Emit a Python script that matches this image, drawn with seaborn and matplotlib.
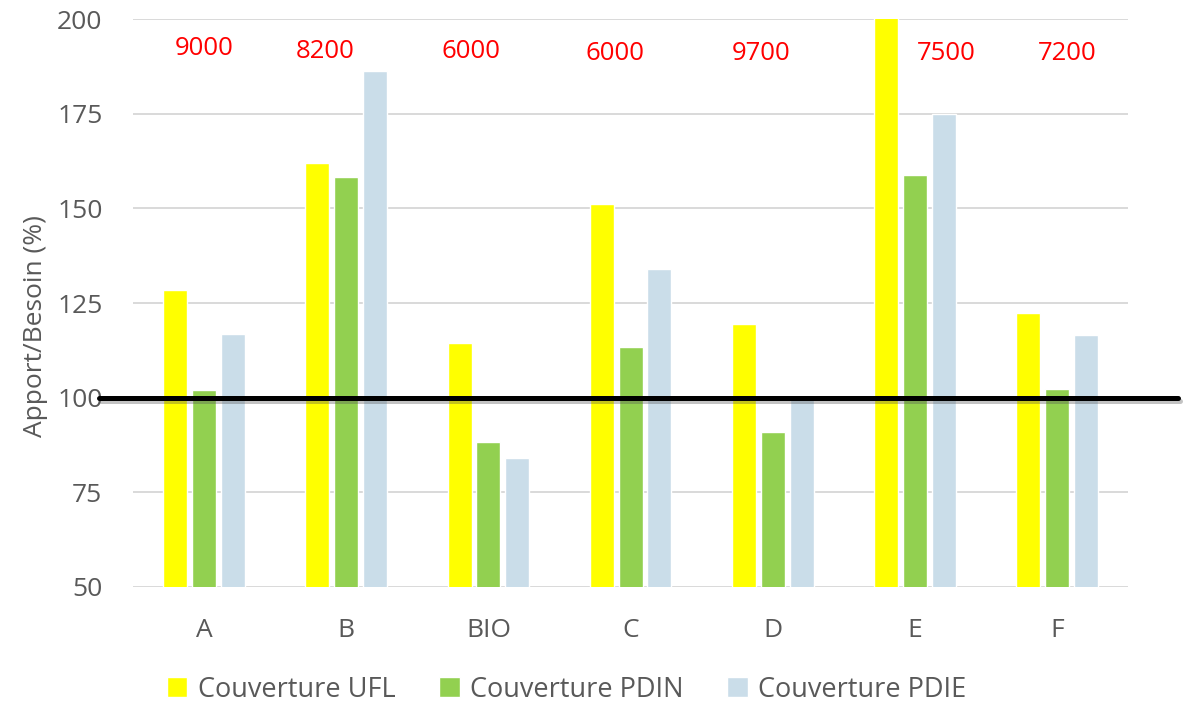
import matplotlib.pyplot as plt
import matplotlib.patheffects as pe
import numpy as np
import pandas as pd
import seaborn as sns

# data
categories = ['A', 'B', 'BIO', 'C', 'D', 'E', 'F']
ufl = [128.4, 162.0, 114.4, 151.1, 119.5, 201.0, 122.3]
pdin = [102.1, 158.3, 88.3, 113.4, 91.0, 158.8, 102.2]
pdie = [116.7, 186.3, 84.1, 133.9, 99.8, 175.0, 116.5]
lait = ['9000', '8200', '6000', '6000', '9700', '7500', '7200']
seuil = 100

series = ['Couverture UFL', 'Couverture PDIN', 'Couverture PDIE']
colors = ['#FFFF00', '#92D050', '#CADDE9']

# where the hand placed red labels sit (offset in category units, y in data)
lab_dx = [0.0, -0.15, -0.12, -0.11, -0.08, 0.22, 0.07]
lab_y = [192.1, 191.5, 191.5, 191.0, 191.0, 190.8, 190.8]

df = pd.DataFrame({'cat': categories * 3,
                   'serie': np.repeat(series, len(categories)),
                   'val': ufl + pdin + pdie})

sns.set_style('white')
plt.rcParams['font.family'] = ['Open Sans', 'DejaVu Sans']

fig = plt.figure(figsize=(11.9, 7.04), dpi=100)
ax = fig.add_axes([0.1118, 0.1662, 0.8362, 0.8068])

sns.barplot(data=df, x='cat', y='val', hue='serie', palette=colors,
            width=0.61, gap=0.17, saturation=1, ax=ax)

ax.set_ylim(50, 200)
ax.set_yticks(range(50, 201, 25))
ax.set_xlim(-0.5, len(categories) - 0.5)
ax.yaxis.grid(True, color='#D9D9D9', lw=1.4)
ax.set_axisbelow(True)
for s in ax.spines.values():
    s.set_visible(False)
ax.tick_params(axis='both', length=0, labelsize=19, colors='#595959')
ax.tick_params(axis='y', pad=22)
ax.tick_params(axis='x', pad=22)
ax.set_xlabel('')
ax.set_ylabel('Apport/Besoin (%)', fontsize=19, color='#595959')
ax.yaxis.set_label_coords(-0.085, 0.46)

# ligne 100 %
ax.axhline(seuil, xmin=-0.034, xmax=1.05, color='black', lw=3.6, clip_on=False,
           path_effects=[pe.SimpleLineShadow(offset=(1.5, -2.5), alpha=0.35, shadow_color='#555555'),
                         pe.Normal()], zorder=5)

for i, t in enumerate(lait):
    ax.text(i + lab_dx[i], lab_y[i], t, color='#FF0000', fontsize=18.5,
            ha='center', va='center')

leg = ax.legend(loc='center', bbox_to_anchor=(0.436, -0.181), ncol=3,
                frameon=False, fontsize=19.5, handlelength=0.75, handleheight=0.75,
                columnspacing=1.6, handletextpad=0.4)
for t in leg.get_texts():
    t.set_color('#595959')

fig.savefig('out.png', dpi=100)
